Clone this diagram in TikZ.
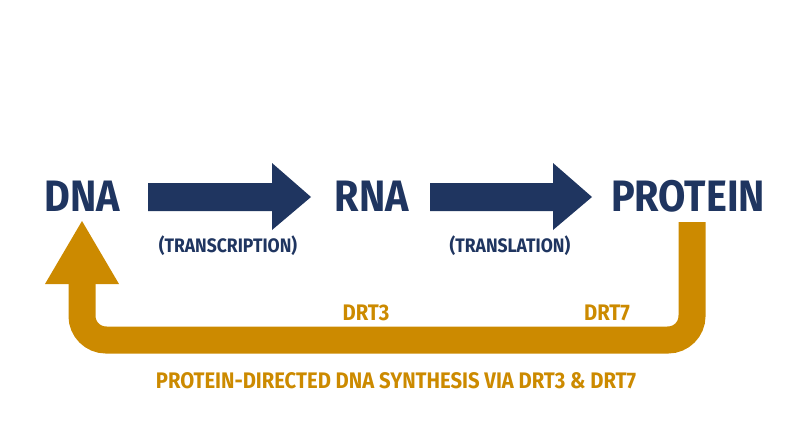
\documentclass[tikz,border=0pt]{standalone}
\usepackage{fontspec}
\setmainfont{Fira Sans}[UprightFont=* Bold, FakeStretch=0.9]
\definecolor{navy}{HTML}{1F3560}
\definecolor{gold}{HTML}{CC8A00}
\begin{document}
\begin{tikzpicture}[x=1pt,y=-1pt,
    big/.style={text=navy, font=\fontsize{44}{44}\selectfont, inner sep=0pt},
    sub/.style={text=navy, font=\fontsize{19.5}{19.5}\selectfont, inner sep=0pt},
    glab/.style={text=gold, font=\fontsize{22.5}{22.5}\selectfont, inner sep=0pt},
    flow/.style={fill=navy}]
\useasboundingbox (0,0) rectangle (800,447);
\node [big] (dna) at (82,196) {DNA};
\node [big] (rna) at (372,196) {RNA};
\node [big] (prot) at (688,196) {PROTEIN};
% forward arrows
\fill [flow] (148,183) -- (272,183) -- (272,163) -- (311,197) -- (272,230) -- (272,211) -- (148,211) -- cycle;
\fill [flow] (430,183) -- (553,183) -- (553,163) -- (592,197) -- (553,230) -- (553,211) -- (430,211) -- cycle;
\node [sub] (tc) at (228,246) {(TRANSCRIPTION)};
\node [sub] (tl) at (510,246) {(TRANSLATION)};
% feedback
\coordinate (pb) at (692,222);
\coordinate (db) at (82,284);
\draw [gold, line width=27, rounded corners=24] (pb) -- (692,340) -- (82,340) -- (db);
\fill [gold] (45,284) -- (82,221) -- (119,284) -- cycle;
\node [glab] (d3) at (366,313) {DRT3};
\node [glab] (d7) at (607,313) {DRT7};
\node [glab] (cap) at (396,381) {PROTEIN-DIRECTED DNA SYNTHESIS VIA DRT3 \& DRT7};
\end{tikzpicture}
\end{document}
